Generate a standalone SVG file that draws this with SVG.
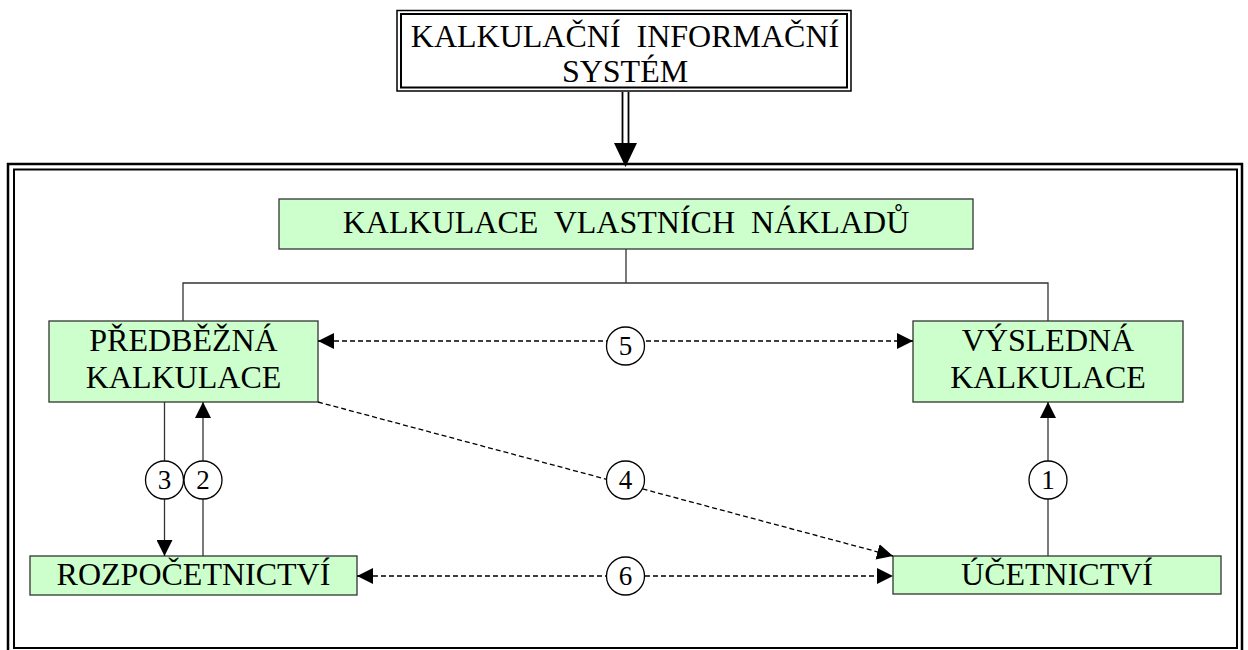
<svg xmlns="http://www.w3.org/2000/svg" width="1248" height="650" viewBox="0 0 1248 650">
<style>
text{font-family:"Liberation Serif","Times New Roman",serif;fill:#000;text-anchor:middle;white-space:pre}
.t{font-size:32px}
.n{font-size:27px}
.box{fill:#CCFFCC;stroke:#333;stroke-width:1.3}
.ln{fill:none;stroke:#333;stroke-width:1.3}
.dash{fill:none;stroke:#000;stroke-width:1.3;stroke-dasharray:5 3}
.circ{fill:#fff;stroke:#000;stroke-width:1.3}
</style>
<defs>
<marker id="ah" viewBox="0 0 16 16" refX="16" refY="8" markerWidth="16" markerHeight="16" markerUnits="userSpaceOnUse" orient="auto-start-reverse">
<path d="M0,0 L16,8 L0,16 Z" fill="#000"/>
</marker>
</defs>
<rect width="1248" height="650" fill="#fff"/>

<g id="frame">
<rect x="8" y="164" width="1234" height="489" fill="none" stroke="#000" stroke-width="2.5"/>
<rect x="14" y="169.5" width="1223" height="478.5" fill="none" stroke="#000" stroke-width="2"/>
</g>

<g id="system">
<rect x="397" y="10.5" width="454" height="80.5" fill="#fff" stroke="#000" stroke-width="1.5"/>
<rect x="401" y="14" width="446" height="73.5" fill="none" stroke="#000" stroke-width="2"/>
<text class="t" x="625" y="47">KALKULAČNÍ  INFORMAČNÍ</text>
<text class="t" x="625" y="82">SYSTÉM</text>
</g>

<g id="kvn">
<rect class="box" x="279" y="199" width="694" height="50"/>
<text class="t" x="626" y="233">KALKULACE  VLASTNÍCH  NÁKLADŮ</text>
</g>

<g id="pk">
<rect class="box" x="49" y="321" width="269" height="81"/>
<text class="t" x="183.5" y="351">PŘEDBĚŽNÁ</text>
<text class="t" x="183.5" y="388">KALKULACE</text>
</g>

<g id="vk">
<rect class="box" x="913" y="321" width="270" height="81"/>
<text class="t" x="1048" y="351">VÝSLEDNÁ</text>
<text class="t" x="1048" y="388">KALKULACE</text>
</g>

<g id="rozp">
<rect class="box" x="30" y="556" width="327" height="39"/>
<text class="t" x="193.5" y="585">ROZPOČETNICTVÍ</text>
</g>

<g id="uc">
<rect class="box" x="893" y="556" width="328" height="38"/>
<text class="t" x="1057" y="585">ÚČETNICTVÍ</text>
</g>

<g id="connectors">
<line x1="622.5" y1="92" x2="622.5" y2="144" stroke="#000" stroke-width="1.8"/>
<line x1="628.5" y1="92" x2="628.5" y2="144" stroke="#000" stroke-width="1.8"/>
<path d="M614,143 L637,143 L625.5,167 Z" fill="#000"/>

<path class="ln" d="M626,249 V283 M183,321 V283 H1048 V321"/>

<line class="ln" x1="164.5" y1="402" x2="164.5" y2="556" marker-end="url(#ah)"/>
<line class="ln" x1="203" y1="556" x2="203" y2="402" marker-end="url(#ah)"/>
<line class="ln" x1="1048" y1="556" x2="1048" y2="402" marker-end="url(#ah)"/>

<line class="dash" x1="318" y1="341" x2="913" y2="341" marker-start="url(#ah)" marker-end="url(#ah)"/>
<line class="dash" x1="357" y1="576" x2="893" y2="576" marker-start="url(#ah)" marker-end="url(#ah)"/>
<line class="dash" x1="318" y1="402" x2="893" y2="556" marker-end="url(#ah)"/>

<circle class="circ" cx="625.5" cy="346" r="19"/>
<text class="n" x="625.5" y="355">5</text>
<circle class="circ" cx="625.5" cy="480" r="19"/>
<text class="n" x="625.5" y="489">4</text>
<circle class="circ" cx="625.5" cy="576" r="19"/>
<text class="n" x="625.5" y="585">6</text>
<circle class="circ" cx="164.5" cy="480" r="19"/>
<text class="n" x="164.5" y="489">3</text>
<circle class="circ" cx="203" cy="480" r="19"/>
<text class="n" x="203" y="489">2</text>
<circle class="circ" cx="1048" cy="480" r="19"/>
<text class="n" x="1048" y="489">1</text>
</g>
</svg>
